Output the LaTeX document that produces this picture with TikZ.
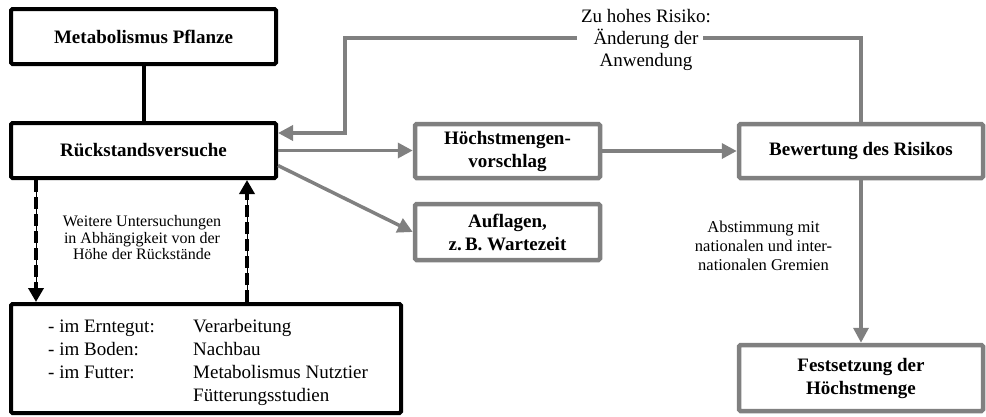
\documentclass[tikz,border=0pt]{standalone}
\usepackage{fontspec}
\setmainfont{Liberation Serif}
\usetikzlibrary{arrows.meta,calc}
\definecolor{gr}{RGB}{128,128,128}
\begin{document}
\begin{tikzpicture}[x=1pt,y=-1pt,
  bbox/.style={draw=black,line width=4pt,fill=white,inner sep=0pt,align=center,
    font=\bfseries\fontsize{19}{23}\selectfont,rounded corners=1.5pt},
  gbox/.style={bbox,draw=gr,line width=4.5pt},
  gline/.style={draw=gr,line width=3.5pt},
  garrow/.style={gline,-{Triangle[length=15pt,width=15pt]}},
  dthick/.style={draw=black,line width=4pt,dash pattern=on 12pt off 5pt,-{Triangle[length=14pt,width=15pt]}},
  dthin/.style={draw=black,line width=0.8pt},
  lbl/.style={align=center,inner sep=0pt}
]
\useasboundingbox (0,0) rectangle (986,416);

% boxes
\node[bbox,minimum width=265pt,minimum height=55pt] (meta) at (143.5,36.5) {Metabolismus Pflanze};
\node[bbox,minimum width=265pt,minimum height=55pt] (rueck) at (143.5,150.5) {Rückstandsversuche};
\node[gbox,minimum width=185pt,minimum height=54pt] (hoechst) at (507.5,151) {Höchstmengen-\\vorschlag};
\node[gbox,minimum width=185pt,minimum height=56pt] (aufl) at (507.5,232) {Auflagen,\\z.\,B. Wartezeit};
\node[gbox,minimum width=244pt,minimum height=54pt] (bew) at (861,151) {Bewertung des Risikos};
\node[gbox,minimum width=244pt,minimum height=66pt] (fest) at (861,378) {Festsetzung der\\Höchstmenge};
\node[bbox,minimum width=390pt,minimum height=109pt] (unter) at (206,358.5) {};
\node[anchor=north west,inner sep=0pt,font=\fontsize{19}{23}\selectfont] (untertext) at (48,316)
  {\begin{tabular}{@{}p{145pt}@{}l@{}}
   - im Erntegut: & Verarbeitung\\
   - im Boden: & Nachbau\\
   - im Futter: & Metabolismus Nutztier\\
   & Fütterungsstudien
   \end{tabular}};

% labels
\node[lbl,font=\fontsize{16}{16.5}\selectfont] (weitere) at (142,238)
  {Weitere Untersuchungen\\in Abhängigkeit von der\\Höhe der Rückstände};
\node[lbl,font=\fontsize{16.5}{19}\selectfont] (abst) at (763.5,246)
  {Abstimmung mit\\nationalen und inter-\\nationalen Gremien};
\node[lbl,font=\fontsize{19}{22}\selectfont] (risiko) at (646,40)
  {Zu hohes Risiko:\\Änderung der\\Anwendung};

% connectors
\draw[line width=4pt] (meta.south) -- (rueck.north);
\draw[garrow] (rueck.east) -- (rueck.east -| hoechst.west);
\draw[garrow] ($(rueck.east)+(0,15)$) -- (aufl.west);
\draw[garrow] (hoechst.east) -- (hoechst.east -| bew.west);
\draw[garrow] (bew.south) -- (fest.north);

\coordinate (fbR) at (703,38);
\coordinate (fbL) at (577,38);
\coordinate (fbK) at (345,133);
\draw[gline] (bew.north) |- (fbR);
\draw[garrow] (fbL) -| (fbK) -- (fbK -| rueck.east);

% dashed arrows
\coordinate (d1) at (36,0);
\coordinate (d2) at (247,0);
\draw[dthin] (d1 |- rueck.south) -- ($(d1 |- unter.north)+(0,-8)$);
\draw[dthick] (d1 |- rueck.south) -- (d1 |- unter.north);
\draw[dthin] (d2 |- unter.north) -- ($(d2 |- rueck.south)+(0,8)$);
\draw[dthick] (d2 |- unter.north) -- (d2 |- rueck.south);
\end{tikzpicture}
\end{document}
